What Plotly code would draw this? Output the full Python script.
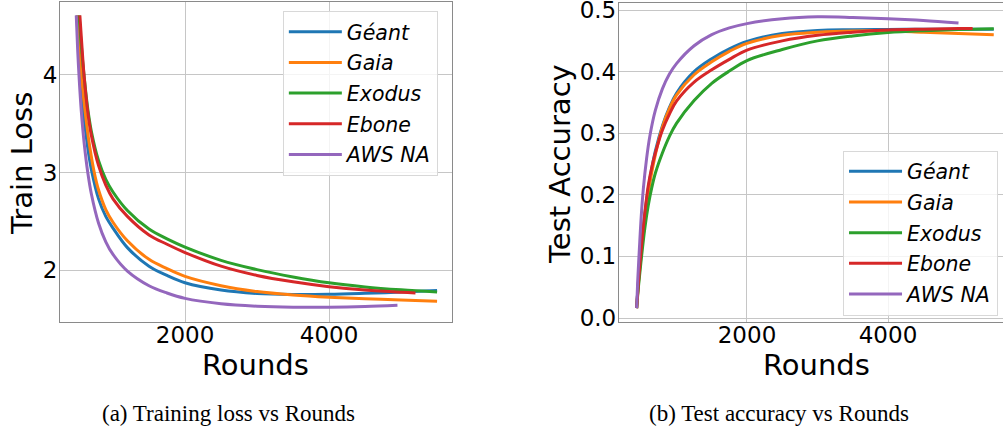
import plotly.graph_objects as go

# --- data ---
names = ['Géant', 'Gaia', 'Exodus', 'Ebone', 'AWS NA']
colors = ['#1f77b4', '#ff7f0e', '#2ca02c', '#d62728', '#9467bd']

# (a) train loss
loss_rounds_geant = [500, 520, 550, 600, 650, 700, 800, 900, 1000, 1200, 1500, 1750, 2000, 2500, 3000, 3500, 4000, 4500, 5000, 5500]
loss_geant = [4.61, 4.3, 3.98, 3.55, 3.25, 3.03, 2.73, 2.55, 2.43, 2.23, 2.04, 1.945, 1.87, 1.795, 1.76, 1.75, 1.752, 1.762, 1.775, 1.79]

loss_rounds_gaia = [505, 530, 565, 620, 680, 740, 800, 900, 1000, 1200, 1500, 1750, 2000, 2500, 3000, 3500, 4000, 4500, 5000, 5500]
loss_gaia = [4.61, 4.28, 3.97, 3.58, 3.25, 3.0, 2.82, 2.62, 2.49, 2.3, 2.11, 2.015, 1.935, 1.84, 1.78, 1.745, 1.722, 1.706, 1.693, 1.68]

loss_rounds_exodus = [530, 560, 600, 650, 700, 800, 900, 1000, 1200, 1500, 1750, 2000, 2500, 3000, 3500, 4000, 4500, 5000, 5500]
loss_exodus = [4.61, 4.3, 3.98, 3.65, 3.42, 3.12, 2.93, 2.8, 2.61, 2.42, 2.32, 2.236, 2.1, 2.005, 1.93, 1.87, 1.828, 1.798, 1.775]

loss_rounds_ebone = [540, 570, 600, 650, 700, 800, 900, 1000, 1200, 1500, 1750, 2000, 2500, 3000, 3500, 4000, 4500, 5000, 5200]
loss_ebone = [4.61, 4.28, 3.98, 3.62, 3.38, 3.07, 2.87, 2.73, 2.55, 2.36, 2.265, 2.18, 2.04, 1.945, 1.88, 1.83, 1.795, 1.772, 1.765]

loss_rounds_aws = [490, 510, 530, 560, 600, 650, 700, 800, 900, 1000, 1200, 1500, 1750, 2000, 2500, 3000, 3500, 4000, 4500, 4950]
loss_aws = [4.61, 4.25, 3.97, 3.63, 3.3, 3.0, 2.78, 2.48, 2.29, 2.16, 1.99, 1.84, 1.765, 1.71, 1.655, 1.63, 1.62, 1.62, 1.627, 1.64]

# (b) test accuracy
acc_rounds_geant = [435, 460, 500, 550, 600, 650, 700, 800, 900, 1000, 1250, 1500, 1750, 2000, 2500, 3000, 3500, 4000, 4500, 5000, 5500]
acc_geant = [0.016, 0.06, 0.11, 0.168, 0.21, 0.243, 0.271, 0.312, 0.342, 0.365, 0.4, 0.421, 0.437, 0.449, 0.462, 0.467, 0.468, 0.4685, 0.469, 0.469, 0.469]

acc_rounds_gaia = [435, 460, 500, 550, 600, 650, 700, 800, 900, 1000, 1250, 1500, 1750, 2000, 2500, 3000, 3500, 4000, 4500, 5000, 5500]
acc_gaia = [0.016, 0.055, 0.105, 0.16, 0.202, 0.237, 0.265, 0.31, 0.34, 0.362, 0.395, 0.416, 0.433, 0.446, 0.459, 0.464, 0.466, 0.466, 0.464, 0.462, 0.46]

acc_rounds_exodus = [435, 460, 500, 550, 600, 650, 700, 800, 900, 1000, 1250, 1500, 1750, 2000, 2500, 3000, 3500, 4000, 4500, 5000, 5500]
acc_exodus = [0.016, 0.05, 0.095, 0.145, 0.183, 0.212, 0.235, 0.268, 0.295, 0.316, 0.353, 0.381, 0.401, 0.418, 0.436, 0.45, 0.458, 0.4635, 0.4665, 0.4685, 0.4697]

acc_rounds_ebone = [435, 460, 500, 550, 600, 650, 700, 800, 900, 1000, 1250, 1500, 1750, 2000, 2500, 3000, 3500, 4000, 4500, 5000, 5200]
acc_ebone = [0.016, 0.058, 0.112, 0.17, 0.215, 0.245, 0.268, 0.305, 0.331, 0.352, 0.383, 0.403, 0.42, 0.435, 0.45, 0.459, 0.464, 0.4675, 0.469, 0.47, 0.47]

acc_rounds_aws = [435, 450, 475, 500, 530, 575, 625, 700, 800, 900, 1000, 1250, 1500, 1750, 2000, 2500, 3000, 3500, 4000, 4500, 5000]
acc_aws = [0.016, 0.06, 0.115, 0.165, 0.21, 0.258, 0.297, 0.337, 0.372, 0.396, 0.413, 0.442, 0.46, 0.471, 0.478, 0.486, 0.489, 0.488, 0.486, 0.483, 0.479]

loss_x_ticks = [2000, 4000]
loss_y_ticks = [2, 3, 4]
acc_x_ticks = [2000, 4000]
acc_y_ticks = [0.0, 0.1, 0.2, 0.3, 0.4, 0.5]

loss_series = [(loss_rounds_geant, loss_geant), (loss_rounds_gaia, loss_gaia), (loss_rounds_exodus, loss_exodus),
               (loss_rounds_ebone, loss_ebone), (loss_rounds_aws, loss_aws)]
acc_series = [(acc_rounds_geant, acc_geant), (acc_rounds_gaia, acc_gaia), (acc_rounds_exodus, acc_exodus),
              (acc_rounds_ebone, acc_ebone), (acc_rounds_aws, acc_aws)]

FONT = 'DejaVu Sans'
GRID = '#c6c6c6'
FRAME = '#8a8a8a'

fig = go.Figure()
for i, (name, (xs, ys)) in enumerate(zip(names, loss_series)):
    fig.add_trace(go.Scatter(x=xs, y=ys, name=name, mode='lines', line=dict(color=colors[i], width=3, shape='spline', smoothing=1),
                             xaxis='x', yaxis='y', legend='legend', legendgroup=f'a{i}'))
for i, (name, (xs, ys)) in enumerate(zip(names, acc_series)):
    fig.add_trace(go.Scatter(x=xs, y=ys, name=name, mode='lines', line=dict(color=colors[i], width=3, shape='spline', smoothing=1),
                             xaxis='x2', yaxis='y2', legend='legend2', legendgroup=f'b{i}'))

ax_common = dict(showgrid=True, gridcolor=GRID, gridwidth=1.2, showline=True, linecolor=FRAME, linewidth=1.2,
                 zeroline=False, ticks='', automargin=False, ticklabeloverflow='allow',
                 tickfont=dict(family=FONT, size=23, color='black'))
leg_common = dict(xanchor='left', yanchor='top', bgcolor='rgba(255,255,255,0.8)', bordercolor='#d8d8d8', borderwidth=1,
                  font=dict(family=FONT, size=20.5, color='black', style='italic'), tracegroupgap=1, itemwidth=53)

fig.update_layout(
    width=1003, height=426, margin=dict(l=0, r=0, t=0, b=0, autoexpand=False),
    paper_bgcolor='white', plot_bgcolor='white', showlegend=True,
    xaxis=dict(domain=[0.0598, 0.4507], range=[264, 5708], anchor='y', mirror=True, tickvals=loss_x_ticks,
               tickformat='d', ticklabelstandoff=-8, **ax_common),
    yaxis=dict(domain=[0.2441, 0.9953], range=[1.468, 4.747], anchor='x', mirror=True, tickvals=loss_y_ticks,
               tickformat='d', ticklabelstandoff=-3, **ax_common),
    xaxis2=dict(domain=[0.6171, 1.0], range=[184, 5631], anchor='y2', mirror=True, tickvals=acc_x_ticks,
                tickformat='d', ticklabelstandoff=-8, **ax_common),
    yaxis2=dict(domain=[0.2441, 0.9923], range=[-0.0065, 0.511], anchor='x2', mirror=False, tickvals=acc_y_ticks,
                tickformat='.1f', ticklabelstandoff=-3, **ax_common),
    legend=dict(x=0.282, y=0.9742, **leg_common),
    legend2=dict(x=0.8405, y=0.6467, **leg_common),
)

title_font = dict(family=FONT, size=29, color='black')
cap_font = dict(family='Liberation Serif', size=23, color='black')
annots = [
    dict(text='Train Loss', x=0.0219, y=0.617, textangle=-90, font=title_font),
    dict(text='Test Accuracy', x=0.5583, y=0.615, textangle=-90, font=title_font),
    dict(text='Rounds', x=0.2552, y=0.1432, font=title_font),
    dict(text='Rounds', x=0.8136, y=0.1432, font=title_font),
    dict(text='(a) Training loss vs Rounds', x=0.2283, y=0.0305, font=cap_font),
    dict(text='(b) Test accuracy vs Rounds', x=0.7767, y=0.0305, font=cap_font),
]
for a in annots:
    fig.add_annotation(xref='paper', yref='paper', showarrow=False, xanchor='center', yanchor='middle', **a)

# page body has a default 8px margin; drop it so the figure sits at the window's corner
fig.write_html("out.html", config={'displayModeBar': False},
               post_script="document.body.style.margin='0';")
